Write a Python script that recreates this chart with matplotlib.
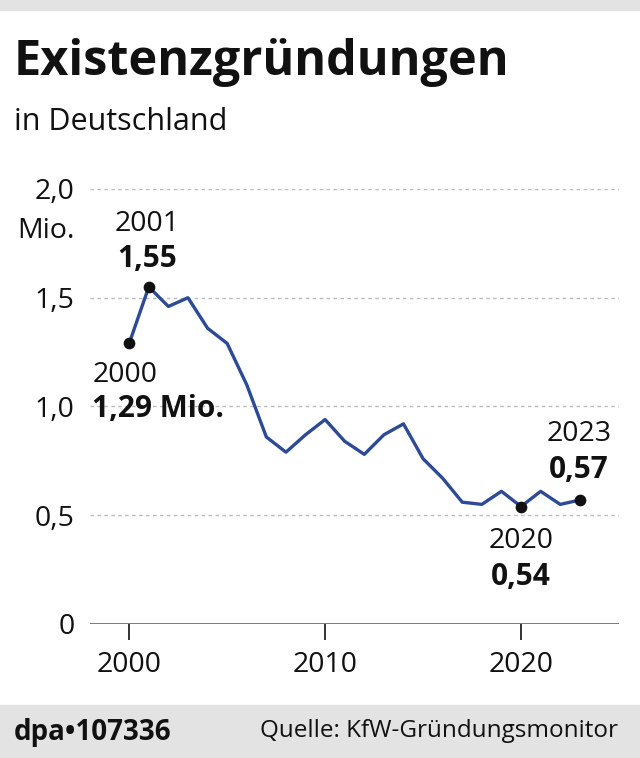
import matplotlib
matplotlib.use("Agg")
from matplotlib import pyplot as plt
from matplotlib.patches import Rectangle

plt.rcParams["font.family"] = ["Open Sans", "DejaVu Sans"]

# Existenzgründungen in Mio., KfW-Gründungsmonitor
years = list(range(2000, 2024))
values = [1.29, 1.55, 1.46, 1.50, 1.36, 1.29, 1.10, 0.86, 0.79, 0.87, 0.94, 0.84,
          0.78, 0.87, 0.92, 0.76, 0.67, 0.56, 0.55, 0.61, 0.54, 0.61, 0.55, 0.57]
y_ticks = [0, 0.5, 1.0, 1.5, 2.0]
y_labels = ["0", "0,5", "1,0", "1,5", "2,0"]
x_ticks = [2000, 2010, 2020]
marked = [0, 1, 20, 23]
marked_texts = ["1,29 Mio.", "1,55", "0,54", "0,57"]

W, H = 640, 758
fig = plt.figure(figsize=(W / 100, H / 100), dpi=100)
INK = "#111111"
FS = 20.5


def fx(px):
    return px / W


def fy(py):
    return 1 - py / H


# grey bands top and bottom
fig.patches.append(Rectangle((0, fy(10)), 1, 10 / H, transform=fig.transFigure,
                             color="#e3e3e3", zorder=0))
fig.patches.append(Rectangle((0, 0), 1, fy(705), transform=fig.transFigure,
                             color="#e3e3e3", zorder=0))

fig.text(fx(14), fy(75), "Existenzgründungen", fontsize=35, fontweight="bold",
         va="baseline", ha="left", color=INK)
fig.text(fx(14), fy(130), "in Deutschland", fontsize=22, va="baseline", ha="left",
         color=INK)

ax = fig.add_axes([fx(90), fy(624), fx(619) - fx(90), (624 - 189) / H])
ax.set_xlim(1998.0, 2025.0)
ax.set_ylim(0, 2.0)
for s in ax.spines.values():
    s.set_visible(False)

for t in y_ticks[1:]:
    ax.axhline(t, color="#bbbbbb", lw=1.0, ls=(0, (2.5, 2.5)), zorder=1)
ax.axhline(0, color="#8a3b4a", lw=1.8, zorder=2)

ax.set_yticks(y_ticks)
ax.set_yticklabels(y_labels)
ax.set_xticks(x_ticks)
ax.set_xticklabels([str(x) for x in x_ticks])
ax.tick_params(axis="y", length=0, pad=11, labelsize=FS, labelcolor=INK)
ax.tick_params(axis="x", direction="out", length=11.5, width=1.4, color="#333333",
               pad=8, labelsize=FS, labelcolor=INK)
ax.annotate("Mio.", (0, 1), xycoords="axes fraction", xytext=(-15, -49),
            textcoords="offset pixels", ha="right", va="baseline", fontsize=FS,
            color=INK, annotation_clip=False)

ax.plot(years, values, color="#2c4a96", lw=2.4, zorder=3, solid_joinstyle="round")

ax.scatter([years[i] for i in marked], [values[i] for i in marked], s=55,
           color=INK, zorder=4)

# (dx, baseline dy of year, baseline dy of value, ha) in pixels from the point
offsets = [(-37, -39, -74, "left"), (-2, 56, 20, "center"),
           (0, -41, -78, "center"), (-1, 59, 22, "center")]

for i, txt, (dx, dy1, dy2, ha) in zip(marked, marked_texts, offsets):
    x, y = years[i], values[i]
    ax.annotate(str(x), (x, y), xytext=(dx, dy1), textcoords="offset pixels",
                ha=ha, va="baseline", fontsize=FS, color=INK,
                annotation_clip=False)
    ax.annotate(txt, (x, y), xytext=(dx, dy2), textcoords="offset pixels",
                ha=ha, va="baseline", fontsize=FS + 1, fontweight="bold",
                color=INK, annotation_clip=False)

fig.text(fx(14), fy(740), "dpa\u2022107336", fontsize=20, fontweight="bold",
         va="baseline", ha="left", color=INK)
fig.text(fx(618), fy(737), "Quelle: KfW-Gründungsmonitor", fontsize=17.5,
         va="baseline", ha="right", color=INK)

fig.savefig("out.png", dpi=100)
